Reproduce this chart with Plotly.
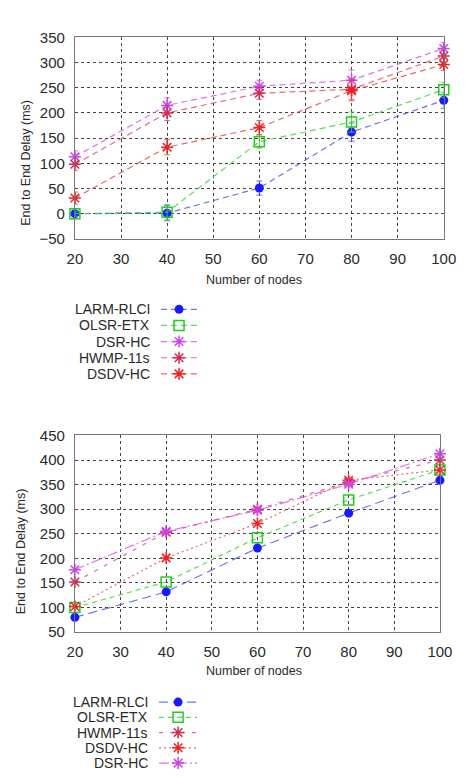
import plotly.graph_objects as go

# ---------------- data ----------------
nodes = [20, 40, 60, 80, 100]

# top chart
top_names = ["LARM-RLCI", "OLSR-ETX", "DSR-HC", "HWMP-11s", "DSDV-HC"]
top_larm = [0, 1, 51, 162, 225]
top_olsr = [0, 3, 143, 182, 246]
top_dsr = [113, 215, 253, 265, 328]
top_hwmp = [98, 200, 239, 247, 313]
top_dsdv = [31, 132, 171, 244, 296]
top_err_larm = [5, 15, 14, 18, 16]
top_err_olsr = [5, 15, 13, 20, 15]
top_err_dsr = [12, 15, 12, 20, 12]
top_err_hwmp = [12, 15, 12, 20, 12]
top_err_dsdv = [12, 15, 14, 20, 12]

# bottom chart
bot_names = ["LARM-RLCI", "OLSR-ETX", "HWMP-11s", "DSDV-HC", "DSR-HC"]
bot_larm = [80, 132, 221, 292, 359]
bot_olsr = [100, 152, 242, 319, 380]
bot_hwmp = [152, 253, 300, 355, 400]
bot_dsdv = [102, 201, 271, 359, 380]
bot_dsr = [177, 255, 298, 351, 413]

x_ticks = [20, 30, 40, 50, 60, 70, 80, 90, 100]
top_y_ticks = [-50, 0, 50, 100, 150, 200, 250, 300, 350]
bot_y_ticks = [50, 100, 150, 200, 250, 300, 350, 400, 450]

# ---------------- styles ----------------
W, H = 473, 780
FONT = "Liberation Sans, Arial, sans-serif"
TXT = "#2a2a2a"

style = {
    "LARM-RLCI": dict(color="#1a1aff", line="rgba(70,70,235,0.75)", symbol="circle", size=9, lw=0),
    "OLSR-ETX": dict(color="#22cc22", line="rgba(60,215,60,0.85)", symbol="square-open", size=10, lw=1.5),
    "DSR-HC": dict(color="#cc44ee", line="rgba(215,90,235,0.85)", symbol="asterisk-open", size=10, lw=1.5),
    "HWMP-11s": dict(color="#d42a4e", line="rgba(220,70,100,0.8)", symbol="asterisk-open", size=10, lw=1.5),
    "DSDV-HC": dict(color="#ee2020", line="rgba(235,60,60,0.8)", symbol="asterisk-open", size=10, lw=1.5),
}
top_dash = {n: "6px,4px" for n in top_names}
bot_dash = {
    "LARM-RLCI": "9px,5px",
    "OLSR-ETX": "5px,4px",
    "HWMP-11s": "4px,7px",
    "DSDV-HC": "2px,3px",
    "DSR-HC": "10px,3px,2px,3px",
}

fig = go.Figure()


def add_series(name, ys, xa, ya, dash, err=None):
    s = style[name]
    marker = dict(symbol=s["symbol"], size=s["size"], color=s["color"],
                  line=dict(color=s["color"], width=s["lw"]))
    kw = {}
    if err is not None:
        kw["error_y"] = dict(type="data", array=err, visible=True,
                             color=s["line"], thickness=1, width=3)
    fig.add_trace(go.Scatter(x=nodes, y=ys, mode="lines+markers", name=name,
                             line=dict(color=s["line"], width=1.2, dash=dash),
                             marker=marker, xaxis=xa, yaxis=ya,
                             showlegend=False, cliponaxis=False, **kw))


top_vals = [top_larm, top_olsr, top_dsr, top_hwmp, top_dsdv]
top_errs = [top_err_larm, top_err_olsr, top_err_dsr, top_err_hwmp, top_err_dsdv]
for n, v, e in zip(top_names, top_vals, top_errs):
    add_series(n, v, "x", "y", top_dash[n], e)

bot_vals = [bot_larm, bot_olsr, bot_hwmp, bot_dsdv, bot_dsr]
for n, v in zip(bot_names, bot_vals):
    add_series(n, v, "x2", "y2", bot_dash[n])

# ---------------- custom legends (text left, sample right) ----------------
def add_legend(names, dashes, y0, step, text_x, lx0, lx1, mx):
    for i, n in enumerate(names):
        s = style[n]
        yy = y0 + i * step
        fig.add_trace(go.Scatter(x=[lx0, lx1], y=[yy, yy], mode="lines",
                                 line=dict(color=s["line"], width=1.2, dash=dashes[n]),
                                 xaxis="x3", yaxis="y3", showlegend=False, hoverinfo="skip"))
        fig.add_trace(go.Scatter(x=[mx], y=[yy], mode="markers",
                                 marker=dict(symbol=s["symbol"], size=s["size"], color=s["color"],
                                             line=dict(color=s["color"], width=s["lw"])),
                                 xaxis="x3", yaxis="y3", showlegend=False, hoverinfo="skip"))
        fig.add_annotation(x=text_x, y=yy, xref="x3", yref="y3", text=n, showarrow=False,
                           xanchor="right", yanchor="middle",
                           font=dict(family=FONT, size=14, color=TXT))


add_legend(top_names, top_dash, 307, 16.5, 151, 160, 200, 179)
add_legend(bot_names, bot_dash, 708.5, 15.6, 149, 158, 198, 178)

# ---------------- axes ----------------
def axis_common():
    return dict(showgrid=True, gridcolor="#444", griddash="dot", gridwidth=1,
                showline=True, linecolor="#777", linewidth=1, mirror=True,
                zeroline=False, ticks="", tickfont=dict(family=FONT, size=15, color=TXT))


top_dom_y = [1 - 235 / H, 1 - 29 / H]
bot_dom_y = [1 - 637 / H, 1 - 436 / H]

fig.update_layout(
    width=W, height=H, margin=dict(l=0, r=0, t=0, b=0),
    paper_bgcolor="white", plot_bgcolor="rgba(0,0,0,0)",
    xaxis=dict(domain=[70 / W, 456 / W], range=[20, 100], tickvals=x_ticks, anchor="y",
               ticklabelstandoff=6, **axis_common()),
    yaxis=dict(domain=top_dom_y, range=[-50, 350], tickvals=top_y_ticks, anchor="x",
               ticklabelstandoff=6, **axis_common()),
    xaxis2=dict(domain=[70 / W, 452 / W], range=[20, 100], tickvals=x_ticks, anchor="y2",
                ticklabelstandoff=6, **axis_common()),
    yaxis2=dict(domain=bot_dom_y, range=[50, 450], tickvals=bot_y_ticks, anchor="x2",
                ticklabelstandoff=6, **axis_common()),
    xaxis3=dict(domain=[0, 1], range=[0, W], visible=False, anchor="y3", fixedrange=True),
    yaxis3=dict(domain=[0, 1], range=[H, 0], visible=False, anchor="x3", fixedrange=True),
)

# axis titles
for (tx, ty) in [(257, 277), (257, 677)]:
    fig.add_annotation(x=tx, y=ty, xref="x3", yref="y3", text="Number of nodes", showarrow=False,
                       font=dict(family=FONT, size=12.5, color=TXT))
for (tx, ty) in [(18, 157), (14, 554)]:
    fig.add_annotation(x=tx, y=ty, xref="x3", yref="y3", text="End to End Delay (ms)", showarrow=False,
                       textangle=-90, font=dict(family=FONT, size=12.5, color=TXT))

fig.write_html("out.html")
